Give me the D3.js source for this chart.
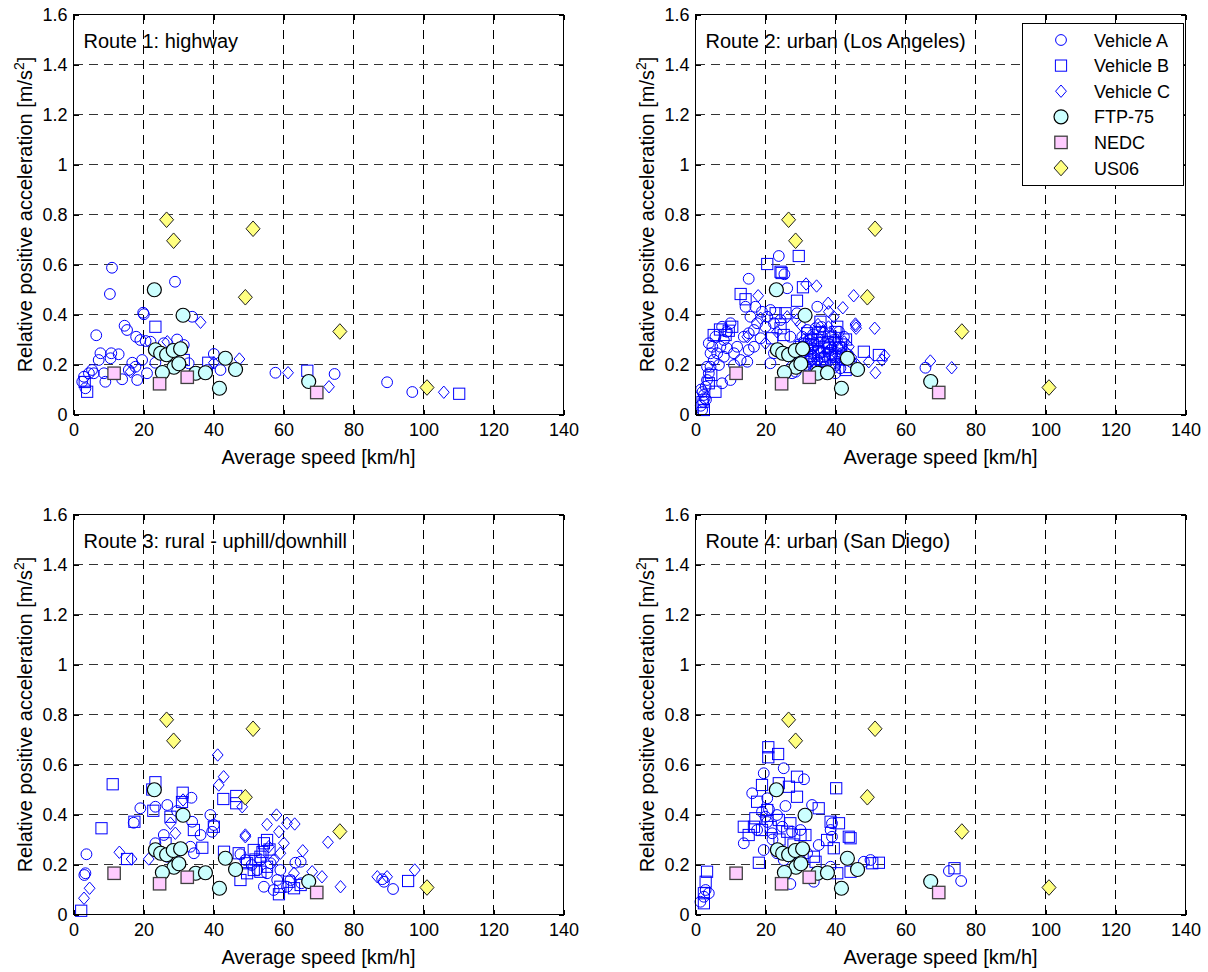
<!DOCTYPE html>
<html><head><meta charset="utf-8">
<script src="https://cdn.jsdelivr.net/npm/d3@7"></script>
<style>
body{margin:0;background:#fff}
text{font-family:"Liberation Sans",Arial,Helvetica,sans-serif;fill:#000}
</style>
</head><body>
<svg id="chart" width="1208" height="972"></svg>
<script>
// ---------- tick values / labels ----------
const speedTicks = [0,20,40,60,80,100,120,140];
const speedTickLabels = ["0","20","40","60","80","100","120","140"];
const accTicks = [0,0.2,0.4,0.6,0.8,1.0,1.2,1.4,1.6];
const accTickLabels = ["0","0.2","0.4","0.6","0.8","1","1.2","1.4","1.6"];

const routeTitles = ["Route 1: highway","Route 2: urban (Los Angeles)","Route 3: rural - uphill/downhill","Route 4: urban (San Diego)"];
const legendLabels = ["Vehicle A","Vehicle B","Vehicle C","FTP-75","NEDC","US06"];
const xLabel = "Average speed [km/h]";

// ---------- reference cycles (same in every panel) [speed km/h, acc m/s2] ----------
const ftp75 = [[23.1,0.499],[31.3,0.397],[23.4,0.259],[24.9,0.245],[26.6,0.239],[28.5,0.256],[30.6,0.263],[28.7,0.189],[30.1,0.203],[25.4,0.168],[34.9,0.165],[37.7,0.167],[43.4,0.225],[46.3,0.180],[41.7,0.105],[67.2,0.132]];
const nedc = [[11.6,0.165],[24.6,0.123],[32.5,0.149],[69.5,0.088]];
const us06 = [[26.6,0.779],[28.6,0.695],[51.3,0.743],[49.1,0.469],[76.1,0.332],[101.0,0.108]];

// ---------- Route 1 ----------
const route1VehicleA = [[11.0,0.587],[10.4,0.482],[29.0,0.531],[19.9,0.407],[20.1,0.401],[14.6,0.355],[15.3,0.338],[6.5,0.317],[17.9,0.311],[19.1,0.298],[20.6,0.294],[22.0,0.291],[29.6,0.300],[33.9,0.391],[31.5,0.278],[12.9,0.241],[10.8,0.245],[7.7,0.245],[7.2,0.218],[10.6,0.225],[5.3,0.178],[4.4,0.165],[3.0,0.151],[2.5,0.131],[3.4,0.105],[5.8,0.165],[8.7,0.165],[9.1,0.131],[13.9,0.141],[16.8,0.207],[17.7,0.191],[18.2,0.138],[21.0,0.165],[23.4,0.207],[40.1,0.242],[42.0,0.178],[57.7,0.167],[74.6,0.162],[19.6,0.218],[25.8,0.285],[15.8,0.178],[32.9,0.205],[38.2,0.178],[89.6,0.129],[96.8,0.090]];
const route1VehicleB = [[23.4,0.351],[3.9,0.091],[31.5,0.218],[38.5,0.207],[66.8,0.175],[110.2,0.083],[3.2,0.130]];
const route1VehicleC = [[36.3,0.369],[26.8,0.291],[47.4,0.222],[61.3,0.167],[73.0,0.111],[16.3,0.171],[40.1,0.207],[105.8,0.089]];

// ---------- Route 2 ----------
const route2VehicleA = [[30.5,0.311],[32.4,0.298],[33.8,0.278],[35.2,0.265],[37.1,0.285],[38.6,0.258],[40.5,0.271],[41.9,0.245],[31.4,0.258],[32.9,0.231],[34.8,0.218],[36.7,0.231],[38.6,0.198],[40.5,0.211],[41.4,0.185],[30.0,0.211],[31.4,0.198],[34.3,0.178],[37.6,0.171],[40.0,0.165],[42.4,0.311],[41.0,0.331],[31.9,0.338],[34.3,0.345],[36.2,0.311],[38.1,0.325],[39.5,0.298],[31.0,0.285],[33.3,0.265],[35.7,0.245],[37.6,0.265],[39.0,0.238],[40.5,0.245],[32.4,0.211],
 [30.8,0.250],[33.0,0.220],[35.8,0.200],[38.2,0.280],[39.8,0.230],[41.8,0.270],[43.5,0.240],[36.0,0.350],[33.6,0.320],[29.5,0.280],[44.5,0.210],[37.0,0.190],
 [1.9,0.018],[2.2,0.051],[2.4,0.078],[2.6,0.065],[2.9,0.111],[3.3,0.138],[3.8,0.165],[4.3,0.191],[5.2,0.218],[6.2,0.245],[7.1,0.271],[8.1,0.298],[9.0,0.331],[7.6,0.351],[10.0,0.365],[5.7,0.311],[4.3,0.245],[6.7,0.198],[8.1,0.231],[9.0,0.265],[11.0,0.245],[11.9,0.271],[12.9,0.218],[14.8,0.211],[15.2,0.258],[13.8,0.311],[15.2,0.325],[16.7,0.338],[17.1,0.431],[19.0,0.411],[20.5,0.391],[21.4,0.418],[22.4,0.365],[24.3,0.378],[26.2,0.505],[23.8,0.634],[15.2,0.543],[25.4,0.561],[14.3,0.431],[15.7,0.391],[17.6,0.365],[20.0,0.351],[21.4,0.205],[22.4,0.245],[27.6,0.165],[28.6,0.171],[65.7,0.187],[10.0,0.138],[7.6,0.125],[11.0,0.198],[4.8,0.271],[3.8,0.285],[3.3,0.191],[27.1,0.311],[29.0,0.405],[34.8,0.431],[16.7,0.271],[18.6,0.305],[1.5,0.035],[2.0,0.090],[3.0,0.060],[1.6,0.100]];
const route2VehicleB = [[20.5,0.602],[29.5,0.634],[24.3,0.571],[12.9,0.482],[14.3,0.461],[30.7,0.509],[29.0,0.455],[25.7,0.405],[35.7,0.371],[40.5,0.351],[48.1,0.251],[52.4,0.238],[42.9,0.178],[5.2,0.318],[8.6,0.318],[10.5,0.351],[2.4,0.018],[5.7,0.091],[4.5,0.158],[3.8,0.125],[24.3,0.345],[25.2,0.318],[22.9,0.405],[21.9,0.305],[27.1,0.245],[31.9,0.325],[34.8,0.298],[36.7,0.271],[38.6,0.311],[32.9,0.245],[36.2,0.211],[40.0,0.231],[41.0,0.265],[24.6,0.566],[9.5,0.335],[7.0,0.340],[2.0,0.050],[33.5,0.280],[37.8,0.290],[35.5,0.330],
 [30.2,0.270],[33.0,0.300],[35.0,0.250],[37.0,0.220],[39.5,0.200],[41.5,0.280],[43.0,0.300],[34.0,0.190],[36.0,0.170],[38.5,0.240],[32.0,0.260],[40.0,0.330],[42.0,0.220],[30.8,0.230],[44.0,0.190]];
const route2VehicleC = [[31.6,0.522],[34.6,0.514],[17.9,0.475],[45.2,0.475],[42.1,0.427],[37.9,0.445],[51.2,0.345],[45.7,0.362],[45.9,0.345],[54.0,0.235],[51.4,0.167],[53.3,0.218],[67.1,0.214],[73.2,0.187],[18.6,0.385],[26.2,0.391],[39.5,0.391],[38.1,0.411],[29.0,0.378],[23.3,0.331],[20.0,0.285],[33.3,0.311],[36.7,0.331],[40.5,0.298],[42.4,0.218],[31.9,0.191],[27.1,0.191],[14.8,0.311],[43.8,0.271],[49.5,0.211],[45.8,0.355],[35.0,0.360],[30.0,0.360],
 [31.0,0.300],[33.5,0.240],[35.5,0.290],[37.5,0.250],[39.0,0.270],[41.0,0.230],[43.0,0.250],[34.5,0.200],[36.5,0.190],[38.0,0.350],[40.0,0.190],[42.5,0.290],[44.5,0.230],[46.0,0.200]];

// ---------- Route 3 ----------
const route3VehicleA = [[3.7,0.241],[3.4,0.165],[3.1,0.158],[19.1,0.425],[23.4,0.431],[26.8,0.438],[33.7,0.467],[17.2,0.367],[29.6,0.414],[33.9,0.371],[39.1,0.398],[40.1,0.358],[39.6,0.331],[36.3,0.318],[25.8,0.318],[23.4,0.285],[33.4,0.271],[34.4,0.245],[24.9,0.251],[29.6,0.251],[26.8,0.231],[63.4,0.207],[54.4,0.111],[57.2,0.098],[61.0,0.111],[58.2,0.138],[55.3,0.165],[52.5,0.178],[50.9,0.198],[49.1,0.218],[47.7,0.241],[53.4,0.218],[56.3,0.205],[59.1,0.178],[62.0,0.138],[65.1,0.125],[88.7,0.131],[91.3,0.102],[88.2,0.141],[64.9,0.211]];
const route3VehicleB = [[11.2,0.521],[8.0,0.345],[15.3,0.222],[17.4,0.371],[23.4,0.529],[22.8,0.415],[31.2,0.487],[27.7,0.391],[26.3,0.285],[34.4,0.338],[36.8,0.267],[40.1,0.351],[42.8,0.462],[46.5,0.474],[46.5,0.445],[43.0,0.251],[47.2,0.245],[47.7,0.138],[49.6,0.205],[51.5,0.258],[53.4,0.231],[54.4,0.285],[55.3,0.298],[51.5,0.178],[53.4,0.171],[55.3,0.191],[58.7,0.081],[59.1,0.111],[61.5,0.131],[63.0,0.105],[64.9,0.118],[2.2,0.015],[49.6,0.165],[95.6,0.134],[22.5,0.500],[31.0,0.450],[52.0,0.220],[54.0,0.250],[56.0,0.260]];
const route3VehicleC = [[3.0,0.065],[4.6,0.105],[13.1,0.249],[16.6,0.222],[21.5,0.222],[41.2,0.638],[42.9,0.551],[41.5,0.518],[48.2,0.431],[49.1,0.318],[49.1,0.311],[55.3,0.360],[58.0,0.398],[61.0,0.365],[63.2,0.362],[58.7,0.331],[60.1,0.285],[59.1,0.245],[65.5,0.255],[68.2,0.171],[71.0,0.151],[72.7,0.289],[76.3,0.111],[27.7,0.365],[29.1,0.325],[31.3,0.458],[55.8,0.271],[57.2,0.218],[63.0,0.165],[86.8,0.151],[89.6,0.151],[97.5,0.178]];

// ---------- Route 4 ----------
const route4VehicleA = [[19.5,0.565],[25.2,0.585],[31.0,0.541],[16.2,0.485],[20.5,0.465],[25.7,0.434],[19.0,0.411],[20.0,0.391],[23.3,0.398],[24.8,0.351],[17.6,0.338],[13.8,0.285],[19.5,0.258],[21.9,0.325],[27.6,0.331],[30.0,0.338],[33.3,0.438],[35.2,0.278],[39.0,0.365],[38.6,0.338],[39.0,0.311],[48.1,0.211],[50.0,0.218],[27.1,0.122],[33.8,0.131],[72.4,0.174],[75.9,0.134],[2.4,0.071],[2.9,0.098],[1.4,0.051],[3.8,0.085],[30.0,0.218],[25.2,0.218],[23.3,0.245],[31.9,0.245],[38.6,0.191],[20.5,0.370],[21.0,0.420],[22.0,0.300]];
const route4VehicleB = [[20.8,0.669],[23.6,0.642],[20.8,0.629],[29.0,0.551],[40.2,0.505],[19.0,0.518],[23.8,0.525],[29.0,0.471],[26.7,0.511],[17.6,0.451],[20.5,0.418],[17.1,0.385],[13.8,0.351],[16.7,0.351],[15.2,0.318],[19.0,0.338],[23.8,0.378],[27.1,0.365],[30.0,0.318],[31.4,0.318],[26.2,0.331],[35.2,0.425],[38.6,0.371],[41.0,0.365],[37.6,0.298],[39.5,0.265],[43.8,0.311],[44.3,0.305],[18.1,0.207],[33.8,0.231],[34.3,0.211],[40.5,0.165],[44.3,0.171],[50.5,0.205],[52.4,0.207],[74.0,0.185],[3.3,0.171],[2.9,0.131],[2.4,0.085],[2.4,0.045],[21.5,0.350],[24.0,0.300],[28.0,0.280]];
const route4VehicleC = [];

const routeVehicleData = [
  [route1VehicleA, route1VehicleB, route1VehicleC],
  [route2VehicleA, route2VehicleB, route2VehicleC],
  [route3VehicleA, route3VehicleB, route3VehicleC],
  [route4VehicleA, route4VehicleB, route4VehicleC]
];
const cycleData = [ftp75, nedc, us06];

// ---------- styles ----------
const styles = [
  {shape:"circle", r:5.4, fill:"none", stroke:"#0000ff", sw:1},
  {shape:"square", r:5.6, fill:"none", stroke:"#0000ff", sw:1},
  {shape:"diamond", rx:5.4, ry:6.2, fill:"none", stroke:"#0000ff", sw:1},
  {shape:"circle", r:7, fill:"#ccffff", stroke:"#000", sw:1.2},
  {shape:"square", r:6.2, fill:"#ffccff", stroke:"#404040", sw:1.3},
  {shape:"diamond", rx:7, ry:7.8, fill:"#ffff80", stroke:"#202020", sw:1}
];

const svg = d3.select("#chart");
const W = 490, H = 400;
const layout = [{left:73.5,top:14.5},{left:695.5,top:14.5},{left:73.5,top:514.5},{left:695.5,top:514.5}];

function drawMarker(g, cx, cy, st){
  let el;
  if(st.shape==="circle"){
    el = g.append("circle").attr("cx",cx).attr("cy",cy).attr("r",st.r);
  } else if(st.shape==="square"){
    el = g.append("rect").attr("x",cx-st.r).attr("y",cy-st.r).attr("width",2*st.r).attr("height",2*st.r);
  } else {
    el = g.append("path").attr("d",`M${cx},${cy-st.ry}L${cx+st.rx},${cy}L${cx},${cy+st.ry}L${cx-st.rx},${cy}Z`);
  }
  el.attr("fill",st.fill).attr("stroke",st.stroke).attr("stroke-width",st.sw);
}

routeTitles.forEach((title,i)=>{
  const {left,top} = layout[i];
  const x = d3.scaleLinear().domain([0,140]).range([left,left+W]);
  const y = d3.scaleLinear().domain([0,1.6]).range([top+H,top]);
  const g = svg.append("g");

  // grid
  const grid = g.append("g").attr("stroke","#000").attr("stroke-width",1).attr("stroke-dasharray","9,6").attr("shape-rendering","crispEdges");
  speedTicks.slice(1,-1).forEach(t=>{
    grid.append("line").attr("x1",x(t)).attr("x2",x(t)).attr("y1",top).attr("y2",top+H);
  });
  accTicks.slice(1,-1).forEach(t=>{
    grid.append("line").attr("x1",left).attr("x2",left+W).attr("y1",y(t)).attr("y2",y(t)).attr("stroke","#333");
  });

  // vehicle markers
  const mg = g.append("g");
  routeVehicleData[i].forEach((arr,k)=>{
    arr.forEach(d=>drawMarker(mg, x(d[0]), y(d[1]), styles[k]));
  });
  cycleData.forEach((arr,k)=>{
    arr.forEach(d=>drawMarker(mg, x(d[0]), y(d[1]), styles[k+3]));
  });

  // axes
  const fs = "18px";
  const ax = g.append("g").attr("transform",`translate(0,${top+H})`)
    .call(d3.axisBottom(x).tickValues(speedTicks).tickFormat((d,j)=>speedTickLabels[j]).tickSizeInner(-5).tickSizeOuter(0).tickPadding(9));
  const ay = g.append("g").attr("transform",`translate(${left},0)`)
    .call(d3.axisLeft(y).tickValues(accTicks).tickFormat((d,j)=>accTickLabels[j]).tickSizeInner(-5).tickSizeOuter(0).tickPadding(6));
  const at = g.append("g").attr("transform",`translate(0,${top})`)
    .call(d3.axisTop(x).tickValues(speedTicks).tickFormat("").tickSizeInner(-5).tickSizeOuter(0));
  const ar = g.append("g").attr("transform",`translate(${left+W},0)`)
    .call(d3.axisRight(y).tickValues(accTicks).tickFormat("").tickSizeInner(-5).tickSizeOuter(0));
  [ax,ay,at,ar].forEach(a=>{
    a.select(".domain").remove();
    a.selectAll("line").attr("stroke","#000").attr("shape-rendering","crispEdges");
    a.selectAll("text").attr("font-size",fs).attr("font-family","'Liberation Sans',Arial,sans-serif").attr("fill","#000");
  });
  g.append("rect").attr("x",left).attr("y",top).attr("width",W).attr("height",H)
    .attr("fill","none").attr("stroke","#000").attr("stroke-width",1).attr("shape-rendering","crispEdges");

  // title
  g.append("text").attr("x",left+10).attr("y",top+33).attr("font-size","20px").text(title);

  // x label
  g.append("text").attr("x",left+W/2).attr("y",top+H+49).attr("text-anchor","middle").attr("font-size","20px").text(xLabel);

  // y label
  const yl = g.append("text").attr("transform",`translate(${left-42},${top+H/2}) rotate(-90)`)
    .attr("text-anchor","middle").attr("font-size","20px");
  yl.append("tspan").text("Relative positive acceleration [m/s");
  yl.append("tspan").attr("dy",-8).attr("font-size","14px").text("2");
  yl.append("tspan").attr("dy",8).text("]");

  // legend (panel 2 only)
  if(i===1){
    const lg = g.append("g");
    lg.append("rect").attr("x",1022.5).attr("y",23.5).attr("width",161).attr("height",162)
      .attr("fill","#fff").attr("stroke","#000").attr("stroke-width",1).attr("shape-rendering","crispEdges");
    legendLabels.forEach((lab,k)=>{
      const cy = 40 + k*25.6;
      drawMarker(lg, 1061, cy, styles[k]);
      lg.append("text").attr("x",1094).attr("y",cy+6.5).attr("font-size","18px").text(lab);
    });
  }
});
</script>
</body></html>
